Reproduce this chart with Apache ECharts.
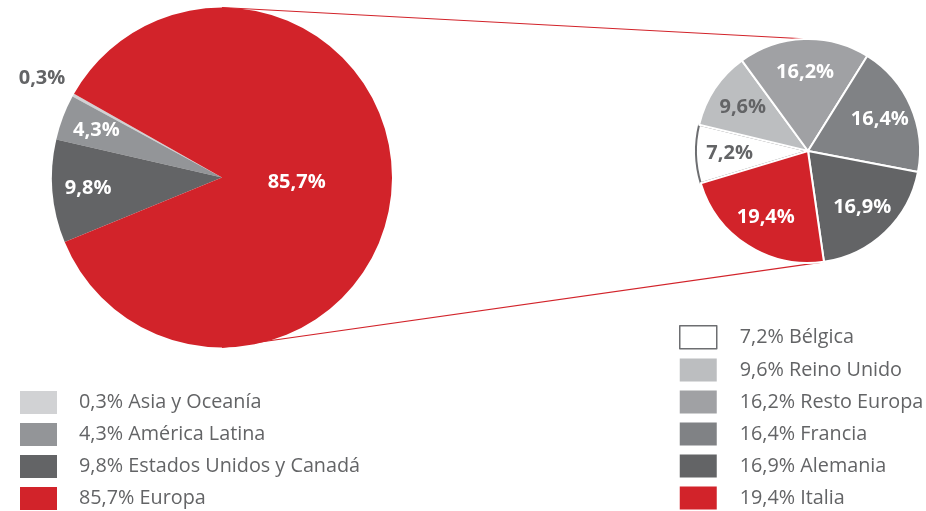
<!DOCTYPE html>
<html>
<head>
<meta charset="utf-8">
<script src="https://cdn.jsdelivr.net/npm/echarts@6/dist/echarts.min.js"></script>
<style>html,body{margin:0;padding:0;background:#fff}#c{width:926px;height:511px}</style>
</head>
<body>
<div id="c"></div>
<script>
// ---- data ----
const regionNames = ['Asia y Oceanía', 'América Latina', 'Estados Unidos y Canadá', 'Europa'];
const regionValues = [0.3, 4.3, 9.8, 85.7];
const europeNames = ['Bélgica', 'Reino Unido', 'Resto Europa', 'Francia', 'Alemania', 'Italia'];
const europeValues = [7.2, 9.6, 16.2, 16.4, 16.9, 19.4];

// ---- styles ----
const regionColors = ['#d1d2d4', '#939598', '#636466', '#d2232a'];
const europeColors = ['#ffffff', '#bcbec0', '#a0a1a4', '#808285', '#636466', '#d2232a'];
const RED = '#d2232a';
const DARK = '#636466';
const FONT = "'Open Sans', sans-serif";
const BIG = {cx: 222, cy: 177.5, r: 170, start: 150.5, clockwise: false};
const SMALL = {cx: 808, cy: 151, r: 112, start: 196.7, clockwise: true};

function fmt(v) { return v.toFixed(1).replace('.', ',') + '%'; }
function sum(a) { return a.reduce((s, x) => s + x, 0); }
function angleAt(geom, fraction) {
  const a = fraction * 360;
  return (geom.clockwise ? geom.start - a : geom.start + a) * Math.PI / 180;
}
function midAngle(geom, values, i) {
  let cum = 0; for (let k = 0; k < i; k++) cum += values[k];
  return angleAt(geom, (cum + values[i] / 2) / sum(values));
}
function endAngle(geom, values, i) {
  let cum = 0; for (let k = 0; k <= i; k++) cum += values[k];
  return angleAt(geom, cum / sum(values));
}
function pointAt(geom, ang, f) {
  return [geom.cx + f * geom.r * Math.cos(ang), geom.cy - f * geom.r * Math.sin(ang)];
}
function lum(hex) {
  const n = parseInt(hex.slice(1), 16);
  return 0.299 * (n >> 16) + 0.587 * ((n >> 8) & 255) + 0.114 * (n & 255);
}
function bigFactor(i) {
  const share = regionValues[i] / sum(regionValues);
  if (share > 0.5) return 0.44;
  if (share < 0.01) return 1.21;
  return 0.79;
}
function bigLabelColor(i) {
  const share = regionValues[i] / sum(regionValues);
  if (share < 0.01) return DARK;
  return lum(regionColors[i]) > 175 ? DARK : '#ffffff';
}
function smallLabelColor(i) { return lum(europeColors[i]) > 175 ? DARK : '#ffffff'; }

const labelBase = {
  show: true, position: 'inside', fontFamily: FONT, fontSize: 20, fontWeight: 'bold',
  formatter: p => fmt(p.value)
};

const chart = echarts.init(document.getElementById('c'), null, {renderer: 'canvas'});

const topA = [BIG.cx, BIG.cy - BIG.r];
const topB = [SMALL.cx, SMALL.cy - SMALL.r];
const botA = [BIG.cx, BIG.cy + BIG.r];
const botB = pointAt(SMALL, endAngle(SMALL, europeValues, 4), 1);

const legendText = {fontFamily: FONT, fontSize: 19.8, color: DARK, lineHeight: 23, padding: [0, 0, 0, 17]};

chart.setOption({
  animation: false,
  backgroundColor: '#ffffff',
  graphic: [
    {type: 'line', z: 0, shape: {x1: topA[0], y1: topA[1], x2: topB[0], y2: topB[1]}, style: {stroke: RED, lineWidth: 1.2}},
    {type: 'line', z: 0, shape: {x1: botA[0], y1: botA[1], x2: botB[0], y2: botB[1]}, style: {stroke: RED, lineWidth: 1.2}}
  ],
  legend: [
    {
      orient: 'vertical', left: 20, top: 391, width: 360, height: 200, padding: 0,
      itemWidth: 37, itemHeight: 23, itemGap: 9,
      icon: 'rect', selectedMode: false,
      data: regionNames.map(n => ({name: n, itemStyle: {borderWidth: 0}})),
      formatter: n => fmt(regionValues[regionNames.indexOf(n)]) + ' ' + n,
      textStyle: legendText
    },
    {
      orient: 'vertical', left: 679, top: 325, width: 247, height: 250, padding: 0,
      itemWidth: 37, itemHeight: 23, itemGap: 9,
      icon: 'rect', selectedMode: false,
      data: europeNames.map((n, i) => ({
        name: n,
        itemStyle: lum(europeColors[i]) > 250 ? {borderColor: '#6d6e71', borderWidth: 1.5} : {borderWidth: 0}
      })),
      formatter: n => fmt(europeValues[europeNames.indexOf(n)]) + ' ' + n,
      textStyle: Object.assign({}, legendText, {padding: [0, 0, 0, 18]})
    }
  ],
  series: [
    {
      type: 'pie', z: 2,
      center: [BIG.cx, BIG.cy], radius: [0, BIG.r],
      startAngle: BIG.start, clockwise: BIG.clockwise,
      avoidLabelOverlap: false, emphasis: {disabled: true},
      itemStyle: {borderWidth: 0},
      label: labelBase, labelLine: {show: false},
      labelLayout: p => {
        const [x, y] = pointAt(BIG, midAngle(BIG, regionValues, p.dataIndex), bigFactor(p.dataIndex));
        return {x, y, align: 'center', verticalAlign: 'middle'};
      },
      data: regionNames.map((n, i) => ({
        name: n, value: regionValues[i],
        itemStyle: {color: regionColors[i]},
        label: {color: bigLabelColor(i)}
      }))
    },
    {
      type: 'pie', z: 2,
      center: [SMALL.cx, SMALL.cy], radius: [0, SMALL.r],
      startAngle: SMALL.start, clockwise: SMALL.clockwise,
      avoidLabelOverlap: false, emphasis: {disabled: true},
      itemStyle: {borderColor: '#ffffff', borderWidth: 2},
      label: labelBase, labelLine: {show: false},
      labelLayout: p => {
        const [x, y] = pointAt(SMALL, midAngle(SMALL, europeValues, p.dataIndex), 0.7);
        return {x, y, align: 'center', verticalAlign: 'middle'};
      },
      data: europeNames.map((n, i) => ({
        name: n, value: europeValues[i],
        itemStyle: lum(europeColors[i]) > 250
          ? {color: europeColors[i], borderColor: '#6d6e71', borderWidth: 2}
          : {color: europeColors[i]},
        label: {color: smallLabelColor(i)}
      }))
    }
  ]
});
</script>
</body>
</html>
